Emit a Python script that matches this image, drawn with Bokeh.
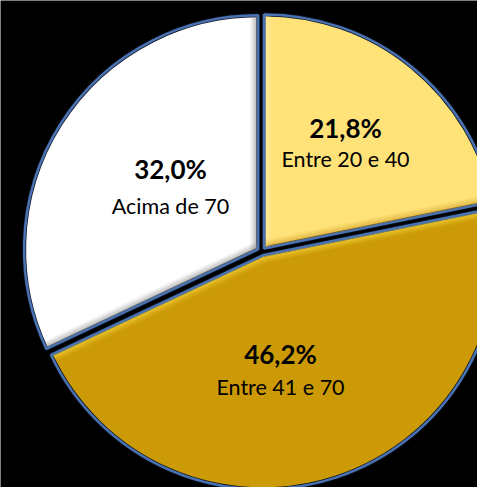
import math
from bokeh.plotting import figure
from bokeh.models import Range1d
from bokeh.embed import file_html
from bokeh.resources import INLINE
from bokeh.core.properties import value

categories = ["Entre 20 e 40", "Entre 41 e 70", "Acima de 70"]
values = [21.8, 46.2, 32.0]
pct_labels = ["21,8%", "46,2%", "32,0%"]
colors = ["#FFE278", "#CC9A06", "#FFFFFF"]
# bevel colours for (left/start edge, right/end edge) of each slice
bevel_start = ["#FFF3B8", "#FFE24A", "#8E8E8E"]   # edge at start angle (clockwise order)
bevel_end = ["#C99A22", "#FFE24A", "#8E8E8E"]     # edge at end angle

W, H = 477, 487
p = figure(width=W, height=H, output_backend="svg", toolbar_location=None,
           x_range=Range1d(0, W), y_range=Range1d(0, H), min_border=0)
p.axis.visible = False
p.grid.visible = False
p.outline_line_color = None
p.background_fill_color = "black"
p.border_fill_color = "black"

cx, cy = 261, H - 251
R = 234
explode = 4

total = sum(values)
slices = []
start = 90.0
for i, v in enumerate(values):
    sweep = v / total * 360.0
    a0 = math.radians(start)          # start edge (larger angle)
    a1 = math.radians(start - sweep)  # end edge
    mid = (a0 + a1) / 2
    ox = cx + explode * math.cos(mid)
    oy = cy + explode * math.sin(mid)
    slices.append((ox, oy, a0, a1))
    start -= sweep

# fills with dark under-stroke
for i, (ox, oy, a0, a1) in enumerate(slices):
    p.wedge(x=[ox], y=[oy], radius=R, start_angle=[a1], end_angle=[a0],
            fill_color=colors[i], line_color="#0d1424", line_width=4)

# bevel strips along the radial edges
steps = 6
sw = 1.4
def strip(ox, oy, theta, nx, ny, t0, t1, L):
    ux, uy = math.cos(theta), math.sin(theta)
    xs = [ox + nx * t0, ox + ux * L + nx * t0, ox + ux * L + nx * t1, ox + nx * t1]
    ys = [oy + ny * t0, oy + uy * L + ny * t0, oy + uy * L + ny * t1, oy + ny * t1]
    return xs, ys

for i, (ox, oy, a0, a1) in enumerate(slices):
    for theta, col, nang in ((a0, bevel_start[i], a0 - math.pi / 2),
                             (a1, bevel_end[i], a1 + math.pi / 2)):
        nx, ny = math.cos(nang), math.sin(nang)
        for k in range(steps):
            t0, t1 = k * sw, (k + 1) * sw
            L = math.sqrt(max(R * R - t1 * t1, 0)) - 1.5
            xs, ys = strip(ox, oy, theta, nx, ny, t0, t1, L)
            p.patch(xs, ys, fill_color=col, fill_alpha=0.75 * (1 - k / steps) ** 1.3,
                    line_color=None)

# blue outlines
for i, (ox, oy, a0, a1) in enumerate(slices):
    p.wedge(x=[ox], y=[oy], radius=R, start_angle=[a1], end_angle=[a0],
            fill_color=None, line_color="#4A72B0", line_width=2.5)

# labels
lab_pos = [(345, 127, 158), (280, 353, 386), (170, 168, 205)]
for i in range(3):
    x, y1, y2 = lab_pos[i]
    p.text(x=[x], y=[H - y1], text=[pct_labels[i]], text_align="center",
           text_baseline="middle", text_font=value("Lato"),
           text_font_style="bold", text_font_size="26px", text_color="black")
    p.text(x=[x], y=[H - y2], text=[categories[i]], text_align="center",
           text_baseline="middle", text_font=value("Lato"),
           text_font_size="21.5px", text_color="black")

open("out.html", "w").write(file_html(p, INLINE))
